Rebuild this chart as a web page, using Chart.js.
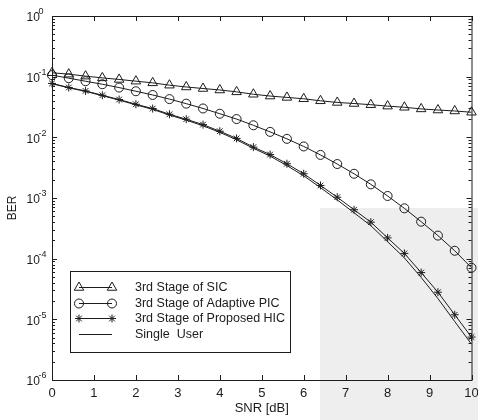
<!DOCTYPE html>
<html>
<head>
<meta charset="utf-8">
<script src="https://cdn.jsdelivr.net/npm/chart.js@4.4.1/dist/chart.umd.min.js"></script>
<style>
  html,body{margin:0;padding:0;background:#fff}
  canvas{display:block}
</style>
</head>
<body>
<canvas id="ber" width="478" height="420"></canvas>
<script>
// SNR grid (dB) and BER curves
const snr = [0,0.4,0.8,1.2,1.6,2.0,2.4,2.8,3.2,3.6,4.0,4.4,4.8,5.2,5.6,6.0,6.4,6.8,7.2,7.6,8.0,8.4,8.8,9.2,9.6,10];
const sic = [0.116,0.110,0.102,0.0955,0.0900,0.0843,0.0791,0.0724,0.0676,0.0638,0.0603,0.0562,0.0513,0.0479,0.0455,0.0432,0.0400,0.0376,0.0361,0.0345,0.0327,0.0313,0.0294,0.0282,0.0272,0.0259];
const pic = [0.106,0.0944,0.0841,0.0750,0.0661,0.0575,0.0499,0.0427,0.0359,0.0299,0.0245,0.0200,0.0158,0.0123,0.00944,0.00708,0.00513,0.00363,0.00251,0.00168,0.00108,6.76e-4,4.07e-4,2.40e-4,1.35e-4,7.08e-5];
const hic = [0.0773,0.0662,0.0582,0.0494,0.0420,0.0351,0.0298,0.0240,0.0199,0.0162,0.0126,0.0096,0.0069,0.0052,0.00367,0.00251,0.00161,0.00103,6.4e-4,4.0e-4,2.2e-4,1.22e-4,5.9e-5,2.8e-5,1.19e-5,5.1e-6];
const single = [0.0765,0.0655,0.0572,0.0486,0.0411,0.0343,0.0289,0.0233,0.0192,0.0155,0.0121,0.0091,0.0066,0.0049,0.00342,0.00232,0.00148,9.3e-4,5.7e-4,3.5e-4,1.9e-4,1.03e-4,4.9e-5,2.2e-5,9.2e-6,3.9e-6];
const labels = ['3rd Stage of SIC','3rd Stage of Adaptive PIC','3rd Stage of Proposed HIC','Single  User'];
const xTicks = [0,1,2,3,4,5,6,7,8,9,10];
const yExps = [0,-1,-2,-3,-4,-5,-6];

const INK = '#1c1c1c';
const FONT = "'Liberation Sans', Arial, sans-serif";
const pts = arr => arr.map((v,i)=>({x:snr[i], y:v}));

// scanned page: light grey patch lower right
const paper = {
  id:'paper',
  beforeDraw(chart){
    const {ctx, width, height} = chart;
    ctx.save();
    ctx.fillStyle='#fff'; ctx.fillRect(0,0,width,height);
    ctx.fillStyle='#eeeeee'; ctx.fillRect(320,208,width-320,height-208);
    ctx.restore();
  }
};

// matlab style box, inward ticks, labels
const frame = {
  id:'frame',
  afterDatasetsDraw(chart){
    const {ctx, chartArea:{left,right,top,bottom}, scales:{x,y}} = chart;
    ctx.save();
    ctx.strokeStyle=INK; ctx.lineWidth=1;
    ctx.strokeRect(left+0.5, top+0.5, right-left, bottom-top);
    ctx.beginPath();
    xTicks.forEach(t=>{
      const px = Math.round(x.getPixelForValue(t))+0.5;
      ctx.moveTo(px,bottom); ctx.lineTo(px,bottom-5);
      ctx.moveTo(px,top); ctx.lineTo(px,top+5);
    });
    yExps.forEach(e=>{
      const py = Math.round(y.getPixelForValue(10**e))+0.5;
      ctx.moveTo(left,py); ctx.lineTo(left+5,py);
      ctx.moveTo(right,py); ctx.lineTo(right-5,py);
      if(e>-6) for(let m=2;m<=9;m++){
        const pm = Math.round(y.getPixelForValue(m*10**(e-1)))+0.5;
        ctx.moveTo(left,pm); ctx.lineTo(left+3,pm);
        ctx.moveTo(right,pm); ctx.lineTo(right-3,pm);
      }
    });
    ctx.stroke();

    ctx.fillStyle=INK;
    ctx.font=`13px ${FONT}`; ctx.textAlign='center'; ctx.textBaseline='middle';
    xTicks.forEach(t=> ctx.fillText(String(t), x.getPixelForValue(t), 393));
    yExps.forEach(e=>{
      const py = y.getPixelForValue(10**e);
      ctx.font=`12px ${FONT}`; ctx.textAlign='left';
      ctx.fillText('10', 26.5, py+2);
      ctx.font=`9px ${FONT}`;
      ctx.fillText(String(e), 38.5, py-4);
    });
    ctx.font=`13px ${FONT}`; ctx.textAlign='center';
    ctx.fillText('SNR [dB]', (left+right)/2, 408);
    ctx.font=`12px ${FONT}`;
    ctx.translate(13,208); ctx.rotate(-Math.PI/2);
    ctx.fillText('BER', 0, 0);
    ctx.restore();
  }
};

const legendBox = {
  id:'legendBox',
  afterDraw(chart){
    const {ctx} = chart;
    const bx=70, by=271, bw=220, bh=81, rowH=15.7, y0=287;
    ctx.save();
    ctx.fillStyle='#fff'; ctx.fillRect(bx,by,bw,bh);
    ctx.strokeStyle=INK; ctx.lineWidth=1; ctx.strokeRect(bx+0.5,by+0.5,bw,bh);
    chart.data.datasets.forEach((ds,i)=>{
      const yy = Math.round(y0+i*rowH)+0.5;
      ctx.strokeStyle=ds.borderColor; ctx.lineWidth=1;
      ctx.beginPath(); ctx.moveTo(79,yy); ctx.lineTo(112,yy); ctx.stroke();
      if(ds.pointRadius>0){
        const o = {pointStyle:ds.pointStyle, radius:ds.pointRadius, rotation:0, borderWidth:1};
        ctx.strokeStyle=ds.pointBorderColor; ctx.fillStyle='rgba(0,0,0,0)';
        Chart.helpers.drawPoint(ctx,o,79,yy);
        Chart.helpers.drawPoint(ctx,o,112,yy);
      }
      ctx.fillStyle=INK; ctx.font=`12.5px ${FONT}`;
      ctx.textAlign='left'; ctx.textBaseline='middle';
      ctx.fillText(ds.label,135,yy);
    });
    ctx.restore();
  }
};

function series(label, data, style, r){
  return {label, data:pts(data), borderColor:INK, borderWidth:1,
    pointStyle:style, pointRadius:r, pointBorderColor:INK, pointBorderWidth:1,
    pointBackgroundColor:'rgba(0,0,0,0)', tension:0, fill:false};
}

new Chart(document.getElementById('ber'),{
  type:'line',
  data:{datasets:[
    series(labels[0], sic, 'triangle', 5.5),
    series(labels[1], pic, 'circle', 4.5),
    series(labels[2], hic, 'star', 4),
    series(labels[3], single, 'circle', 0)
  ]},
  options:{
    responsive:false, animation:false, clip:false,
    layout:{padding:{top:16,right:6,left:0,bottom:0}},
    plugins:{legend:{display:false}, tooltip:{enabled:false}},
    scales:{
      x:{type:'linear', min:0, max:10, grid:{display:false, drawTicks:false}, border:{display:false},
         ticks:{display:false}, afterFit(s){ s.height=40; }},
      y:{type:'logarithmic', min:1e-6, max:1, grid:{display:false, drawTicks:false}, border:{display:false},
         ticks:{display:false}, afterFit(s){ s.width=52; }}
    }
  },
  plugins:[paper, frame, legendBox]
});
</script>
</body>
</html>
